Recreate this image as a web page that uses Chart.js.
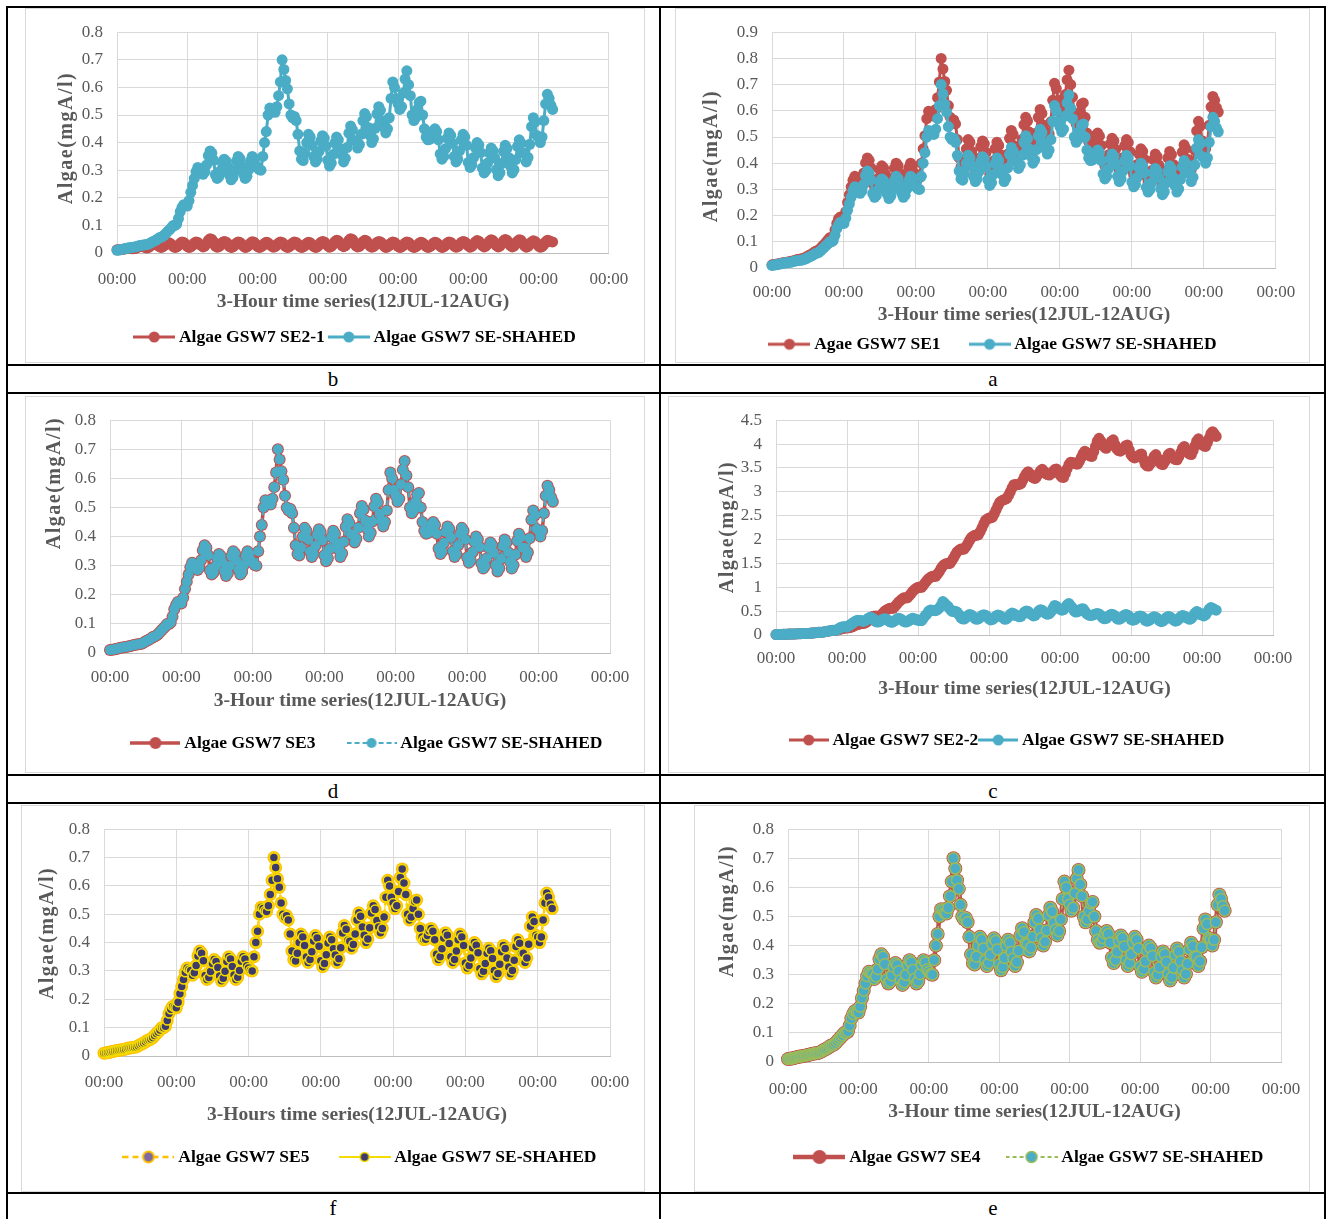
<!DOCTYPE html>
<html><head><meta charset="utf-8">
<script src="https://cdn.jsdelivr.net/npm/chart.js@4.4.1/dist/chart.umd.min.js"></script>
<style>
body{margin:0;background:#fff;}
#page{position:relative;width:1327px;height:1219px;overflow:hidden;font-family:"Liberation Serif",serif;}
.ln{position:absolute;background:#000;}
.frame{position:absolute;border:1px solid #d9d9d9;box-sizing:border-box;}
canvas{position:absolute;}
.lbl{position:absolute;font-size:21px;transform:translate(-50%,-50%);color:#000;}
</style></head>
<body><div id="page"></div>
<script>
// 3-hourly samples, x = days from 12 JUL 00:00 (one row = one day)
const STEP_DAYS = 0.125;
const X_MAX = 35, X_STEP = 5;
const TICK_LABEL = '00:00';
const Y_TITLE = 'Algae(mgA/l)';
const X_TITLE = '3-Hour time series(12JUL-12AUG)';
const X_TITLE_F = '3-Hours time series(12JUL-12AUG)';

const SHAHED = [
  0.010,0.011,0.012,0.013,0.015,0.016,0.018,0.019,
  0.020,0.021,0.022,0.023,0.025,0.027,0.028,0.029,
  0.030,0.031,0.033,0.036,0.040,0.043,0.046,0.050,
  0.055,0.057,0.060,0.065,0.072,0.079,0.085,0.092,
  0.100,0.100,0.105,0.125,0.150,0.165,0.175,0.172,
  0.170,0.190,0.220,0.245,0.270,0.295,0.310,0.305,
  0.302,0.285,0.294,0.319,0.353,0.370,0.362,0.336,
  0.284,0.270,0.277,0.298,0.326,0.340,0.333,0.312,
  0.282,0.265,0.274,0.299,0.333,0.350,0.342,0.316,
  0.286,0.270,0.278,0.302,0.334,0.350,0.342,0.318,
  0.310,0.302,0.300,0.350,0.400,0.440,0.500,0.525,
  0.520,0.512,0.510,0.530,0.570,0.620,0.700,0.665,
  0.625,0.595,0.540,0.500,0.490,0.495,0.480,0.430,
  0.370,0.340,0.335,0.362,0.400,0.430,0.420,0.390,
  0.349,0.330,0.340,0.368,0.406,0.425,0.416,0.387,
  0.336,0.315,0.326,0.357,0.399,0.420,0.410,0.378,
  0.356,0.330,0.343,0.382,0.434,0.460,0.447,0.408,
  0.405,0.380,0.393,0.430,0.480,0.505,0.493,0.455,
  0.426,0.400,0.413,0.452,0.504,0.530,0.517,0.478,
  0.455,0.435,0.450,0.490,0.560,0.620,0.600,0.560,
  0.540,0.520,0.530,0.580,0.630,0.660,0.610,0.570,
  0.500,0.480,0.490,0.520,0.545,0.550,0.500,0.450,
  0.420,0.410,0.412,0.425,0.442,0.450,0.440,0.410,
  0.359,0.340,0.350,0.378,0.416,0.435,0.426,0.397,
  0.350,0.330,0.340,0.370,0.410,0.430,0.420,0.390,
  0.328,0.310,0.319,0.346,0.382,0.400,0.391,0.364,
  0.308,0.290,0.299,0.326,0.362,0.380,0.371,0.344,
  0.302,0.280,0.291,0.324,0.368,0.390,0.379,0.346,
  0.314,0.290,0.302,0.338,0.386,0.410,0.398,0.362,
  0.362,0.330,0.346,0.394,0.458,0.490,0.474,0.426,
  0.420,0.400,0.420,0.480,0.540,0.575,0.560,0.535,
  0.520
];
const SE1 = [
  0.012,0.013,0.014,0.015,0.017,0.018,0.020,0.021,
  0.022,0.023,0.025,0.026,0.028,0.030,0.032,0.033,
  0.034,0.036,0.038,0.042,0.046,0.050,0.053,0.058,
  0.063,0.066,0.069,0.075,0.083,0.090,0.098,0.106,
  0.115,0.116,0.120,0.145,0.170,0.188,0.195,0.192,
  0.190,0.215,0.250,0.280,0.310,0.335,0.350,0.345,
  0.344,0.325,0.335,0.363,0.401,0.420,0.411,0.382,
  0.326,0.310,0.318,0.342,0.374,0.390,0.382,0.358,
  0.324,0.305,0.315,0.343,0.381,0.400,0.391,0.362,
  0.328,0.310,0.319,0.346,0.382,0.400,0.391,0.364,
  0.355,0.346,0.345,0.400,0.455,0.505,0.570,0.598,
  0.592,0.584,0.580,0.605,0.650,0.710,0.800,0.760,
  0.712,0.678,0.620,0.575,0.562,0.565,0.550,0.490,
  0.420,0.385,0.380,0.410,0.455,0.490,0.480,0.445,
  0.397,0.375,0.386,0.419,0.463,0.485,0.474,0.441,
  0.384,0.360,0.372,0.408,0.456,0.480,0.468,0.432,
  0.405,0.375,0.390,0.435,0.495,0.525,0.510,0.465,
  0.463,0.435,0.449,0.491,0.547,0.575,0.561,0.519,
  0.485,0.455,0.470,0.515,0.575,0.605,0.590,0.545,
  0.519,0.495,0.512,0.558,0.640,0.705,0.685,0.640,
  0.615,0.595,0.605,0.662,0.718,0.755,0.700,0.652,
  0.572,0.550,0.560,0.595,0.625,0.630,0.575,0.515,
  0.482,0.470,0.472,0.488,0.507,0.515,0.503,0.468,
  0.411,0.390,0.401,0.432,0.474,0.495,0.485,0.453,
  0.398,0.375,0.387,0.421,0.467,0.490,0.479,0.444,
  0.375,0.355,0.365,0.395,0.435,0.455,0.445,0.415,
  0.351,0.330,0.341,0.372,0.414,0.435,0.425,0.393,
  0.345,0.320,0.333,0.370,0.420,0.445,0.433,0.395,
  0.358,0.330,0.344,0.386,0.442,0.470,0.456,0.414,
  0.412,0.375,0.394,0.449,0.523,0.560,0.542,0.486,
  0.478,0.455,0.478,0.545,0.615,0.655,0.640,0.612,
  0.595
];
const SE2_1 = [
  0.012,0.012,0.012,0.013,0.014,0.015,0.016,0.016,
  0.016,0.015,0.016,0.018,0.021,0.024,0.025,0.022,
  0.021,0.018,0.020,0.025,0.031,0.036,0.035,0.029,
  0.024,0.020,0.022,0.028,0.034,0.038,0.036,0.031,
  0.024,0.020,0.022,0.028,0.035,0.040,0.038,0.032,
  0.024,0.020,0.022,0.028,0.036,0.040,0.038,0.032,
  0.028,0.022,0.025,0.034,0.046,0.052,0.049,0.040,
  0.025,0.021,0.023,0.029,0.038,0.042,0.040,0.034,
  0.024,0.020,0.022,0.028,0.036,0.040,0.038,0.032,
  0.025,0.020,0.022,0.028,0.036,0.041,0.039,0.032,
  0.024,0.020,0.022,0.027,0.035,0.039,0.037,0.031,
  0.025,0.021,0.023,0.029,0.036,0.040,0.038,0.032,
  0.024,0.020,0.022,0.028,0.036,0.040,0.038,0.032,
  0.024,0.020,0.022,0.027,0.035,0.039,0.037,0.031,
  0.024,0.020,0.022,0.029,0.038,0.042,0.040,0.033,
  0.026,0.021,0.024,0.031,0.041,0.046,0.044,0.036,
  0.028,0.023,0.026,0.034,0.046,0.052,0.049,0.040,
  0.026,0.022,0.024,0.031,0.041,0.046,0.044,0.036,
  0.025,0.021,0.023,0.029,0.038,0.042,0.040,0.034,
  0.025,0.020,0.022,0.028,0.036,0.040,0.038,0.032,
  0.024,0.020,0.022,0.028,0.036,0.040,0.038,0.032,
  0.024,0.020,0.022,0.027,0.035,0.039,0.037,0.031,
  0.024,0.020,0.022,0.027,0.035,0.039,0.037,0.031,
  0.025,0.020,0.022,0.028,0.036,0.040,0.038,0.032,
  0.025,0.021,0.023,0.029,0.038,0.042,0.040,0.034,
  0.026,0.021,0.024,0.031,0.040,0.045,0.043,0.035,
  0.027,0.022,0.025,0.032,0.043,0.048,0.045,0.037,
  0.027,0.022,0.025,0.033,0.044,0.049,0.046,0.038,
  0.027,0.022,0.025,0.033,0.043,0.048,0.046,0.037,
  0.026,0.021,0.024,0.031,0.040,0.044,0.042,0.035,
  0.025,0.021,0.023,0.030,0.040,0.046,0.044,0.041,
  0.040
];
const SE2_2 = [
  0.010,0.011,0.012,0.013,0.015,0.016,0.018,0.019,
  0.020,0.021,0.022,0.023,0.025,0.027,0.028,0.029,
  0.030,0.031,0.033,0.036,0.040,0.043,0.046,0.050,
  0.055,0.057,0.060,0.065,0.072,0.079,0.085,0.090,
  0.095,0.096,0.100,0.108,0.120,0.132,0.140,0.146,
  0.150,0.152,0.160,0.173,0.190,0.208,0.220,0.230,
  0.240,0.240,0.250,0.272,0.300,0.345,0.380,0.392,
  0.400,0.392,0.390,0.415,0.450,0.492,0.520,0.542,
  0.560,0.556,0.560,0.598,0.640,0.688,0.720,0.752,
  0.780,0.776,0.780,0.818,0.860,0.912,0.950,0.978,
  1.000,0.996,1.000,1.042,1.090,1.140,1.180,1.208,
  1.230,1.226,1.230,1.278,1.330,1.395,1.450,1.478,
  1.500,1.496,1.500,1.552,1.610,1.680,1.740,1.772,
  1.800,1.796,1.800,1.852,1.910,1.980,2.040,2.068,
  2.090,2.090,2.100,2.165,2.240,2.325,2.400,2.428,
  2.450,2.455,2.470,2.540,2.620,2.705,2.780,2.808,
  2.830,2.840,2.860,2.925,3.000,3.080,3.150,3.155,
  3.150,3.155,3.170,3.240,3.320,3.380,3.420,3.380,
  3.320,3.290,3.280,3.325,3.380,3.440,3.470,3.430,
  3.380,3.360,3.350,3.380,3.420,3.465,3.480,3.420,
  3.350,3.310,3.300,3.385,3.480,3.570,3.620,3.615,
  3.600,3.585,3.580,3.645,3.720,3.800,3.850,3.820,
  3.780,3.750,3.740,3.840,3.950,4.060,4.120,4.060,
  3.980,3.935,3.910,3.950,4.000,4.060,4.090,3.990,
  3.900,3.865,3.850,3.880,3.920,3.965,3.980,3.880,
  3.780,3.730,3.710,3.725,3.750,3.780,3.790,3.680,
  3.580,3.545,3.540,3.595,3.660,3.740,3.780,3.700,
  3.620,3.580,3.570,3.630,3.700,3.780,3.810,3.720,
  3.700,3.675,3.670,3.740,3.820,3.910,3.950,3.880,
  3.820,3.790,3.780,3.865,3.960,4.060,4.110,4.050,
  3.990,3.960,3.950,4.030,4.120,4.220,4.260,4.210,
  4.160
];
// SE3, SE4 and SE5 lie exactly on the SE-SHAHED curve in panels d, e, f
const SE3 = SHAHED.slice();
const SE4 = SHAHED.slice();
const SE5 = SHAHED.slice();

const RED='#C0504D', BLUE='#4BACC6', GREEN='#9BBB59', ORANGE='#FFC000', YEL='#F5DC00', PURP='#3E3A6B';
const GREY='#595959', GRID='#d9d9d9';
const FS_LEG=17.5, LABEL_ROOM=45;

const PANELS = [
  {frame:[25,8,620,355], plot:[117,24,616,253], yMax:0.8, yStep:0.1, tickY:280, xTitleY:302, legend:[357,337], gap:8, yTitle:[67,138], xTitle:X_TITLE, symW:42,
   series:[
    {label:'Algae GSW7 SE2-1', data:SE2_1, line:RED, lw:3, fill:RED, r:5.5, order:1},
    {label:'Algae GSW7 SE-SHAHED', data:SHAHED, line:BLUE, lw:3, fill:BLUE, r:5.5, order:0}]},
  {frame:[675,8,635,355], plot:[772,26,1278,268], yMax:0.9, yStep:0.1, tickY:293, xTitleY:315, legend:[995,345], gap:33, yTitle:[712,156], xTitle:X_TITLE, symW:42,
   series:[
    {label:'Agae GSW7 SE1', data:SE1, line:RED, lw:3, fill:RED, r:5.5, order:1},
    {label:'Algae GSW7 SE-SHAHED', data:SHAHED, line:BLUE, lw:3, fill:BLUE, r:5.5, order:0}]},
  {frame:[25,396,620,377], plot:[110,412,610,653], yMax:0.8, yStep:0.1, tickY:678, xTitleY:701, legend:[369,743], gap:36, yTitle:[55,483], xTitle:X_TITLE, symW:50,
   series:[
    {label:'Algae GSW7 SE3', data:SE3, line:RED, lw:3.5, fill:RED, r:6, order:1},
    {label:'Algae GSW7 SE-SHAHED', data:SHAHED, line:BLUE, lw:2, dash:[5,3], fill:BLUE, r:5, order:0}]},
  {frame:[668,396,642,377], plot:[776,416,1273,635], yMax:4.5, yStep:0.5, tickY:659, xTitleY:689, legend:[1009,740], gap:5, yTitle:[728,527], xTitle:X_TITLE, symW:40,
   series:[
    {label:'Algae GSW7 SE2-2', data:SE2_2, line:RED, lw:3, fill:RED, r:5.5, order:1},
    {label:'Algae GSW7 SE-SHAHED', data:SHAHED, line:BLUE, lw:3, fill:BLUE, r:5.5, order:0}]},
  {frame:[21,805,624,387], plot:[104,826,610,1056], yMax:0.8, yStep:0.1, tickY:1083, xTitleY:1115, legend:[362,1157], gap:34, yTitle:[48,933], xTitle:X_TITLE_F, symW:52,
   series:[
    {label:'Algae GSW7 SE5', data:SE5, line:ORANGE, lw:2.5, dash:[6,4], fill:'#7F6AA6', edge:ORANGE, ew:2, r:5.5, order:1},
    {label:'Algae GSW7 SE-SHAHED', data:SHAHED, line:YEL, lw:1.2, fill:PURP, edge:YEL, ew:1.5, r:4.5, order:0}]},
  {frame:[694,805,616,387], plot:[788,825,1281,1062], yMax:0.8, yStep:0.1, tickY:1090, xTitleY:1112, legend:[1031,1157], gap:30, yTitle:[728,911], xTitle:X_TITLE, symW:52,
   series:[
    {label:'Algae GSW7 SE4', data:SE4, line:RED, lw:4.5, fill:RED, r:7, order:1},
    {label:'Algae GSW7 SE-SHAHED', data:SHAHED, line:GREEN, lw:1.5, dash:[4,3], fill:BLUE, edge:GREEN, ew:1.5, r:5.5, order:0}]},
];
const LABELS = [['b',333,379],['a',993,379],['d',333,791],['c',993,791],['f',333,1208],['e',993,1208]];

Chart.defaults.font.family = '"Liberation Serif", "Times New Roman", serif';

const yTitlePlugin = {
  id:'yTitle',
  afterDraw(chart, args, o){
    const g=chart.ctx;
    g.save();
    g.translate(o.x,o.y); g.rotate(-Math.PI/2);
    g.font='bold 20px "Liberation Serif"';
    g.fillStyle=GREY; g.textAlign='center'; g.textBaseline='middle';
    if('letterSpacing' in g) g.letterSpacing='1.5px';
    g.fillText(o.text,0,0);
    g.restore();
  }
};

function legendSymbol(s, w){
  const c=document.createElement('canvas');
  c.width=w; c.height=18;
  const g=c.getContext('2d');
  g.strokeStyle=s.line; g.lineWidth=Math.max(s.lw,2); g.setLineDash(s.dash||[]);
  g.beginPath(); g.moveTo(0,9); g.lineTo(w,9); g.stroke();
  g.setLineDash([]);
  g.beginPath(); g.arc(w/2,9,Math.max(s.r,4.5),0,Math.PI*2);
  g.fillStyle=s.fill; g.fill();
  if(s.edge){ g.lineWidth=s.ew; g.strokeStyle=s.edge; g.stroke(); }
  return c;
}

const $page=document.getElementById('page');
function add(cls, css, txt){
  const d=document.createElement('div'); d.className=cls; Object.assign(d.style,css);
  if(txt) d.textContent=txt;
  $page.appendChild(d); return d;
}

// table rules
[[6,6,2,1213],[659,6,2,1213],[1324,6,2,1213]].forEach(([x,y,w,h])=>add('ln',{left:x+'px',top:y+'px',width:w+'px',height:h+'px'}));
[6,364,392,774,802,1192].forEach(y=>add('ln',{left:'6px',top:y+'px',width:'1320px',height:'2px'}));
LABELS.forEach(([t,x,y])=>add('lbl',{left:x+'px',top:y+'px'},t));

function build(p){
  const [fx,fy,fw,fh]=p.frame, [pl,pt,pr,pb]=p.plot;
  add('frame',{left:fx+'px',top:fy+'px',width:fw+'px',height:fh+'px'});

  // legend is centred on the canvas box between the paddings
  const cRel=p.legend[0]-fx;
  const padL=Math.min(pl-fx-LABEL_ROOM, Math.max(0, 2*cRel-fw));
  let cw=fw, padR=padL+cw-2*cRel;
  if(padR<0){ cw-=padR; padR=0; }
  const padT=pt-fy;
  const padB=Math.max(0, fh-(p.legend[1]-fy)-FS_LEG/2-10);
  const legendTop=fy+fh-padB-(FS_LEG+p.gap+10);
  const xH=legendTop-pb, yW=pl-fx-padL, rW=cw-padR-(pr-fx);
  const syms=p.series.map(s=>legendSymbol(s,p.symW));

  const cv=document.createElement('canvas');
  cv.width=cw; cv.height=fh; cv.style.left=fx+'px'; cv.style.top=fy+'px';
  $page.appendChild(cv);

  new Chart(cv.getContext('2d'),{
    type:'line',
    data:{datasets:p.series.map(s=>({
      label:s.label,
      data:s.data.map((v,i)=>({x:i*STEP_DAYS,y:v})),
      borderColor:s.line, borderWidth:s.lw, borderDash:s.dash||[], borderJoinStyle:'round',
      pointRadius:s.r, pointHoverRadius:s.r,
      pointBackgroundColor:s.fill, pointBorderColor:s.edge||s.fill, pointBorderWidth:s.edge?s.ew:0,
      tension:0, clip:false, order:s.order, yAxisID:'y'
    }))},
    options:{
      responsive:false, animation:false, devicePixelRatio:1,
      layout:{padding:{left:padL,right:padR,top:padT,bottom:padB}},
      scales:{
        x:{type:'linear',min:0,max:X_MAX,
          ticks:{stepSize:X_STEP,autoSkip:false,maxRotation:0,padding:p.tickY-pb-10.2,color:GREY,font:{size:17},callback:()=>TICK_LABEL},
          grid:{color:GRID,drawTicks:false}, border:{color:'#bfbfbf'},
          title:{display:true,text:p.xTitle,color:GREY,font:{size:19.5,weight:'bold'},padding:{top:0,bottom:legendTop-p.xTitleY-11.7}},
          afterFit:s=>{s.height=xH;}},
        y:{min:0,max:p.yMax,
          ticks:{stepSize:p.yStep,padding:14,color:GREY,font:{size:17},callback:v=>String(+v.toFixed(1))},
          grid:{color:GRID,drawTicks:false}, border:{color:GRID},
          afterFit:s=>{s.width=yW;}},
        r:{type:'linear',position:'right',display:true,
          grid:{display:false,drawTicks:false}, border:{display:false}, ticks:{display:false},
          afterFit:s=>{s.width=rW;}}
      },
      plugins:{
        tooltip:{enabled:false},
        legend:{position:'bottom',
          labels:{usePointStyle:true,pointStyleWidth:p.symW-10,padding:p.gap,color:'#000',
            font:{size:FS_LEG,weight:'bold'},
            generateLabels:chart=>chart.data.datasets.map((ds,i)=>({
              text:ds.label,pointStyle:syms[i],datasetIndex:i,hidden:false,fontColor:'#000',
              lineWidth:0,strokeStyle:'rgba(0,0,0,0)',fillStyle:'rgba(0,0,0,0)'}))}},
        yTitle:{text:Y_TITLE,x:p.yTitle[0]-fx,y:p.yTitle[1]-fy}
      }
    },
    plugins:[yTitlePlugin]
  });
}
PANELS.forEach(build);
</script>
</body></html>
